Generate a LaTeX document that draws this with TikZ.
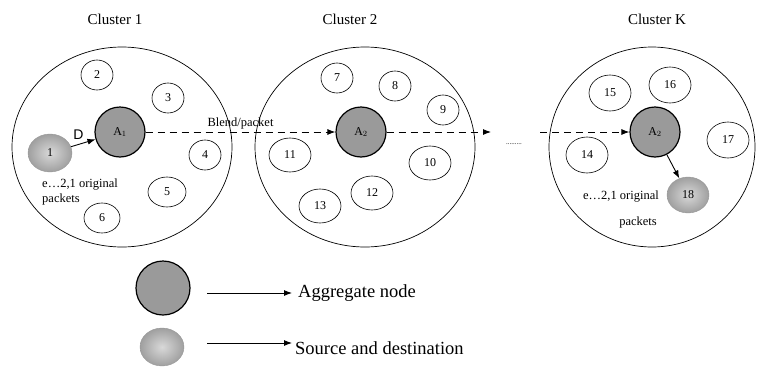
\documentclass[tikz,border=0pt]{standalone}
\usepackage{fontspec}
\setmainfont{Liberation Serif}
\setsansfont{Liberation Sans}
\usepackage{tikz}
\usetikzlibrary{arrows.meta, shapes.geometric, positioning}
\tikzset{>={Latex[length=8pt,width=6pt]}}
\definecolor{agggray}{HTML}{9A9A9A}
\tikzset{
  cluster/.style={draw, ellipse, line width=0.7pt, inner sep=0pt},
  member/.style={draw, ellipse, line width=0.6pt, minimum width=32pt, minimum height=30pt, inner sep=0pt, font=\fontsize{12}{12}\selectfont},
  aggnode/.style={draw, circle, line width=1.2pt, fill=agggray, minimum size=50pt, inner sep=0pt, font=\fontsize{12}{12}\selectfont},
  srcnode/.style={ellipse, inner color=gray!30, outer color=gray!75, draw=gray!80, line width=0.4pt, minimum width=44pt, minimum height=38pt, inner sep=0pt, font=\fontsize{12}{12}\selectfont},
  lbl/.style={font=\fontsize{12.5}{15}\selectfont, inner sep=0pt},
  flow/.style={dash pattern=on 7pt off 5pt, ->, line width=0.9pt}
}

\begin{document}
\begin{tikzpicture}[x=1pt, y=-1pt]
  \useasboundingbox (0,0) rectangle (757,367);
  % clusters
  \node[cluster, minimum width=220pt, minimum height=200pt] (c1) at (122,147) {};
  \node[cluster, minimum width=220pt, minimum height=200pt] (c2) at (365,147) {};
  \node[cluster, minimum width=206pt, minimum height=200pt] (ck) at (652,147) {};
  \node[font=\fontsize{15}{15}\selectfont] (t1) at (115,19) {Cluster 1};
  \node[font=\fontsize{15}{15}\selectfont] (t2) at (350,19) {Cluster 2};
  \node[font=\fontsize{15}{15}\selectfont] (tk) at (657,19) {Cluster K};
  % cluster 1
  \node[member] (n2) at (97,75) {2};
  \node[member] (n3) at (168,98) {3};
  \node[member] (n4) at (205,155) {4};
  \node[member, minimum width=38pt] (n5) at (167,192) {5};
  \node[member, minimum width=36pt] (n6) at (102,218) {6};
  \node[srcnode] (n1) at (50,153) {1};
  \node[aggnode] (a1) at (120,132) {A$_1$};
  \draw[->, line width=0.9pt] (n1) -- (a1) node[pos=0.3, above=1pt, font=\sffamily\fontsize{14}{14}\selectfont] {D};
  \node[lbl, anchor=west, align=left] (p1) at (42,192) {e…2,1 original\\packets};
  % cluster 2
  \node[member] (n7) at (337,78) {7};
  \node[member] (n8) at (395,86) {8};
  \node[member] (n9) at (443,110) {9};
  \node[member, minimum width=42pt, minimum height=34pt] (n10) at (430,163) {10};
  \node[member, minimum width=42pt, minimum height=34pt] (n11) at (290,155) {11};
  \node[member, minimum width=42pt, minimum height=34pt] (n12) at (372,193) {12};
  \node[member, minimum width=42pt, minimum height=34pt] (n13) at (320,206) {13};
  \node[aggnode] (a2) at (361,132) {A$_2$};
  % cluster K
  \node[member, minimum width=42pt, minimum height=36pt] (n14) at (587,155) {14};
  \node[member, minimum width=42pt, minimum height=36pt] (n15) at (610,93) {15};
  \node[member, minimum width=42pt, minimum height=36pt] (n16) at (670,85) {16};
  \node[member, minimum width=42pt, minimum height=36pt] (n17) at (728,140) {17};
  \node[aggnode] (ak) at (655,132) {A$_2$};
  \node[srcnode, minimum width=42pt, minimum height=36pt] (n18) at (688,195) {18};
  \draw[->, line width=0.9pt] (ak) -- (n18);
  \node[lbl] (pk1) at (621,197) {e…2,1 original};
  \node[lbl] (pk2) at (638,222) {packets};
  % flow of blend packets
  \coordinate (e2) at (491,132);
  \coordinate (sk) at (540,132);
  \draw[flow] (a1) -- (a2) node[pos=0.5, above=2pt, lbl] {Blend/packet};
  \draw[flow] (a2) -- (e2);
  \node[font=\fontsize{7}{7}\selectfont, inner sep=0pt] (dots) at (514,144) {.........};
  \draw[flow] (sk) -- (ak);
  % legend
  \node[aggnode, minimum size=54pt] (la) at (163,288) {};
  \node[srcnode] (ls) at (162,347) {};
  \coordinate (ea) at (292,293);
  \coordinate (es) at (292,343);
  \draw[->, line width=0.9pt] (207,293) -- (ea);
  \draw[->, line width=0.9pt] (207,343) -- (es);
  \node[anchor=west, font=\fontsize{18.5}{18.5}\selectfont, inner sep=0pt] (ta) at (298,293) {Aggregate node};
  \node[anchor=west, font=\fontsize{18.5}{18.5}\selectfont, inner sep=0pt] (ts) at (295,348) {Source and destination};
\end{tikzpicture}
\end{document}
